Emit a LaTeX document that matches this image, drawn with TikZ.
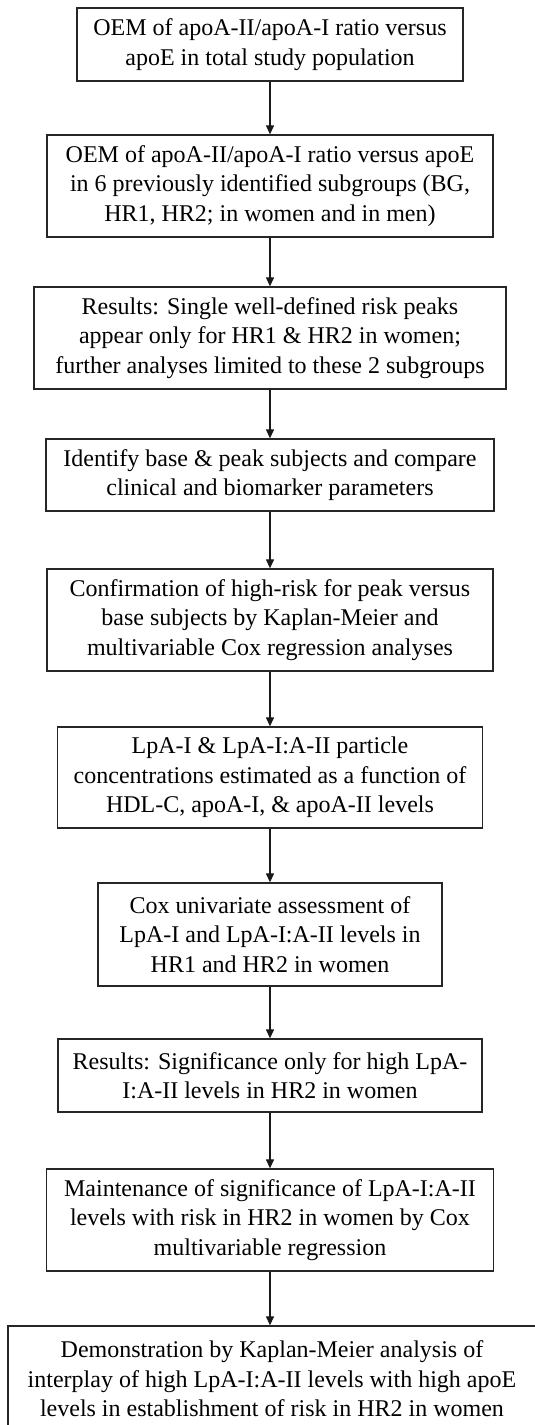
\documentclass[tikz,border=0pt]{standalone}
\usepackage{fontspec}
\setmainfont{Liberation Serif}
\usetikzlibrary{arrows.meta}
\begin{document}
\begin{tikzpicture}[x=1pt,y=-1pt,
  box/.style={draw=black!85, line width=1.3pt, align=center, inner sep=0pt,
    font=\fontsize{24}{29.5}\selectfont, text=black},
  arr/.style={draw=black!90, line width=1.2pt, -{Triangle[length=9pt,width=8pt]}}]
\useasboundingbox (0,0) rectangle (535,1425);
\node[box, minimum width=386pt, minimum height=73pt] (b1) at (270,44.5)
  {OEM of apoA-II/apoA-I ratio versus\\apoE in total study population};
\node[box, minimum width=446pt, minimum height=102pt] (b2) at (270,186)
  {OEM of apoA-II/apoA-I ratio versus apoE\\in 6 previously identified subgroups (BG,\\HR1, HR2; in women and in men)};
\node[box, minimum width=472pt, minimum height=102pt] (b3) at (270,338)
  {Results: Single well-defined risk peaks\\appear only for HR1 \& HR2 in women;\\further analyses limited to these 2 subgroups};
\node[box, minimum width=448pt, minimum height=72pt] (b4) at (270,475)
  {Identify base \& peak subjects and compare\\clinical and biomarker parameters};
\node[box, minimum width=446pt, minimum height=102pt] (b5) at (270,620)
  {Confirmation of high-risk for peak versus\\base subjects by Kaplan-Meier and\\multivariable Cox regression analyses};
\node[box, minimum width=425pt, minimum height=101pt] (b6) at (270,777.5)
  {LpA-I \& LpA-I:A-II particle\\concentrations estimated as a function of\\HDL-C, apoA-I, \& apoA-II levels};
\node[box, minimum width=344pt, minimum height=103pt] (b7) at (270,934.5)
  {Cox univariate assessment of\\LpA-I and LpA-I:A-II levels in\\HR1 and HR2 in women};
\node[box, minimum width=424pt, minimum height=73pt] (b8) at (270,1075.5)
  {Results: Significance only for high LpA-\\I:A-II levels in HR2 in women};
\node[box, minimum width=447pt, minimum height=102pt] (b9) at (270,1220)
  {Maintenance of significance of LpA-I:A-II\\levels with risk in HR2 in women by Cox\\multivariable regression};
\node[box, minimum width=528pt, minimum height=106pt, text depth=0pt] (b10) at (272,1379)
  {Demonstration by Kaplan-Meier analysis of\\interplay of high LpA-I:A-II levels with high apoE\\levels in establishment of risk in HR2 in women};
\draw[arr] (b1.south) -- (b2.north);
\draw[arr] (b2.south) -- (b3.north);
\draw[arr] (b3.south) -- (b4.north);
\draw[arr] (b4.south) -- (b5.north);
\draw[arr] (b5.south) -- (b6.north);
\draw[arr] (b6.south) -- (b7.north);
\draw[arr] (b7.south) -- (b8.north);
\draw[arr] (b8.south) -- (b9.north);
\draw[arr] (b9.south) -- (b10.north -| b9.south);
\end{tikzpicture}
\end{document}
